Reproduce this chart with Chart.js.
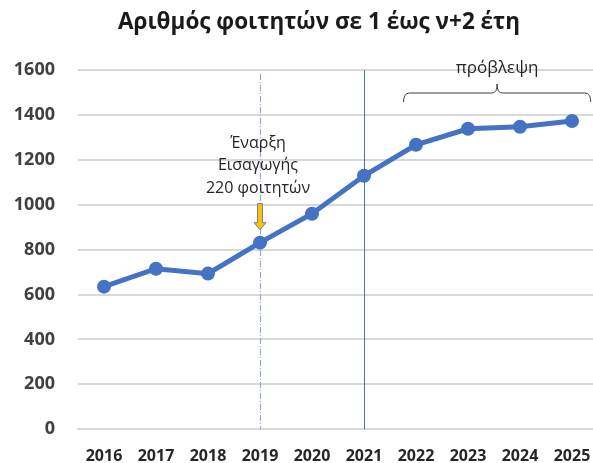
<!DOCTYPE html>
<html>
<head>
<meta charset="utf-8">
<script src="https://cdn.jsdelivr.net/npm/chart.js@4/dist/chart.umd.min.js"></script>
<style>
  html, body { margin: 0; padding: 0; background: #fff; overflow: hidden; }
  #wrap { width: 605px; height: 463px; }
</style>
</head>
<body>
<div id="wrap"><canvas id="chart"></canvas></div>
<script>
// data
const years = ['2016', '2017', '2018', '2019', '2020', '2021', '2022', '2023', '2024', '2025'];
const students = [635, 715, 693, 831, 960, 1129, 1267, 1338, 1347, 1373];
const yTicks = [0, 200, 400, 600, 800, 1000, 1200, 1400, 1600];

const titleText = 'Αριθμός φοιτητών σε 1 έως ν+2 έτη';
const noteLines = ['Έναρξη', 'Εισαγωγής', '220 φοιτητών'];
const noteYear = '2019';
const splitYear = '2021';
const forecastText = 'πρόβλεψη';
const forecastFrom = '2022';
const forecastTo = '2025';

const fontName = '"Open Sans", "DejaVu Sans", sans-serif';

// draws the title, the vertical markers, the arrow, the note and the forecast brace
const extras = {
    id: 'extras',
    beforeDatasetsDraw(chart) {
        const ctx = chart.ctx;
        const x = chart.scales.x;
        const area = chart.chartArea;

        // dash-dot line at start of admissions
        let xd = Math.round(x.getPixelForValue(years.indexOf(noteYear))) + 0.5;
        ctx.save();
        ctx.strokeStyle = '#8FAADC';
        ctx.lineWidth = 1.2;
        ctx.setLineDash([6, 2, 1, 2]);
        ctx.beginPath();
        ctx.moveTo(xd, area.top + 4);
        ctx.lineTo(xd, area.bottom);
        ctx.stroke();

        // solid line where forecast begins
        let xs = Math.round(x.getPixelForValue(years.indexOf(splitYear))) + 0.5;
        ctx.setLineDash([]);
        ctx.strokeStyle = '#4472C4';
        ctx.lineWidth = 1;
        ctx.beginPath();
        ctx.moveTo(xs, area.top);
        ctx.lineTo(xs, area.bottom);
        ctx.stroke();
        ctx.restore();
    },
    afterDatasetsDraw(chart) {
        const ctx = chart.ctx;
        const x = chart.scales.x;
        const y = chart.scales.y;

        ctx.save();
        ctx.textAlign = 'center';
        ctx.textBaseline = 'middle';

        // title, centred over the visible window rather than the wider canvas
        ctx.fillStyle = '#1a1a1a';
        ctx.font = 'bold 22.5px ' + fontName;
        ctx.fillText(titleText, 319, 23);

        // note text
        let xn = x.getPixelForValue(years.indexOf(noteYear));
        ctx.fillStyle = '#262626';
        ctx.font = '16px ' + fontName;
        noteLines.forEach(function (t, i) {
            ctx.fillText(t, xn - 2, 143 + i * 22.5);
        });

        // orange arrow pointing down at the point
        let tipY = y.getPixelForValue(students[years.indexOf(noteYear)]) - 13;
        ctx.beginPath();
        ctx.moveTo(xn - 2.5, tipY - 26);
        ctx.lineTo(xn + 2.5, tipY - 26);
        ctx.lineTo(xn + 2.5, tipY - 7);
        ctx.lineTo(xn + 6, tipY - 7);
        ctx.lineTo(xn, tipY);
        ctx.lineTo(xn - 6, tipY - 7);
        ctx.lineTo(xn - 2.5, tipY - 7);
        ctx.closePath();
        ctx.fillStyle = '#FFC000';
        ctx.fill();
        ctx.strokeStyle = '#6F7FA0';
        ctx.lineWidth = 1;
        ctx.stroke();

        // forecast brace
        let step = x.getPixelForValue(1) - x.getPixelForValue(0);
        let bl = x.getPixelForValue(years.indexOf(forecastFrom)) - step * 0.24;
        let br = x.getPixelForValue(years.indexOf(forecastTo)) + step * 0.36;
        let bm = (bl + br) / 2;
        let by = 93;
        ctx.strokeStyle = '#404040';
        ctx.lineWidth = 1;
        ctx.beginPath();
        ctx.moveTo(bl, by + 9);
        ctx.quadraticCurveTo(bl, by, bl + 6, by);
        ctx.lineTo(bm - 5, by);
        ctx.quadraticCurveTo(bm, by, bm, by - 9);
        ctx.quadraticCurveTo(bm, by, bm + 5, by);
        ctx.lineTo(br - 6, by);
        ctx.quadraticCurveTo(br, by, br, by + 9);
        ctx.stroke();

        ctx.fillStyle = '#262626';
        ctx.font = '17px ' + fontName;
        ctx.fillText(forecastText, bm, 68);
        ctx.restore();
    }
};

const ctx = document.getElementById('chart').getContext('2d');
const myChart = new Chart(ctx, {
    type: 'line',
    data: {
        labels: years,
        datasets: [{
            data: students,
            borderColor: '#4472C4',
            backgroundColor: '#4472C4',
            borderWidth: 5,
            pointRadius: 7,
            pointBorderWidth: 0,
            tension: 0
        }]
    },
    options: {
        responsive: true,
        maintainAspectRatio: false,
        animation: false,
        // canvas is a bit wider than the window, plot runs off the right edge like the original
        layout: { padding: { left: 0, right: 0, top: 70, bottom: 0 } },
        plugins: {
            legend: { display: false },
            tooltip: { enabled: false },
            title: { display: false }
        },
        scales: {
            x: {
                offset: true,
                grid: { display: false, drawTicks: false },
                border: { color: '#D9D9D9', width: 2 },
                ticks: {
                    color: '#262626',
                    font: { family: fontName, size: 16, weight: 'bold' },
                    maxRotation: 0,
                    padding: 18
                },
                afterFit(scale) {
                    scale.height = 33;
                    scale.paddingLeft = 0;
                    scale.paddingRight = 0;
                }
            },
            y: {
                min: 0,
                max: 1600,
                afterBuildTicks(scale) {
                    scale.ticks = yTicks.map(function (v) { return { value: v }; });
                },
                grid: { color: '#D9D9D9', lineWidth: 2, drawTicks: false },
                border: { display: false },
                ticks: {
                    color: '#404040',
                    font: { family: fontName, size: 18, weight: 'bold' },
                    padding: 23,
                    callback: function (v) { return String(v); }
                },
                afterFit(scale) { scale.width = 78; }
            }
        }
    },
    plugins: [extras]
});
</script>
</body>
</html>
